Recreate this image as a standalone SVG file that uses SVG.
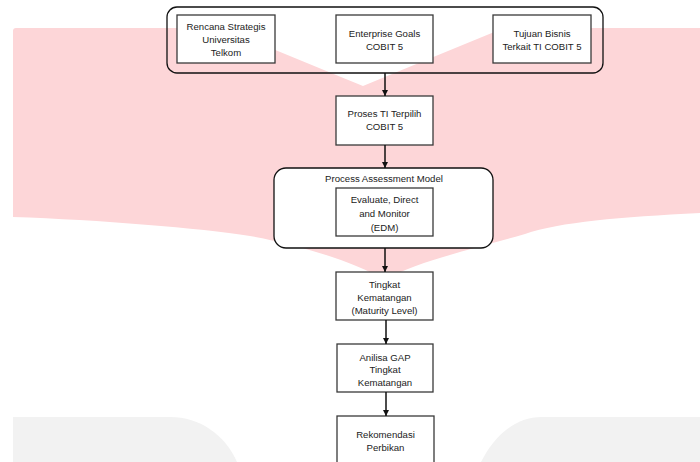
<svg xmlns="http://www.w3.org/2000/svg" width="700" height="462" viewBox="0 0 700 462">
  <defs>
    <style>
      .box { fill: #ffffff; stroke: #3a3a3a; stroke-width: 1.3; }
      .grp { fill: none; stroke: #111111; stroke-width: 1.3; }
      .grpw { fill: #ffffff; stroke: #111111; stroke-width: 1.3; }
      .lbl { font-family: "Liberation Sans", Arial, sans-serif; font-size: 9.6px; fill: #222222; text-anchor: middle; }
      .conn { stroke: #111111; stroke-width: 1.5; fill: none; marker-end: url(#arr); }
    </style>
    <marker id="arr" markerUnits="userSpaceOnUse" markerWidth="8" markerHeight="8" refX="6" refY="3" orient="auto">
      <path d="M0,0 L6,3 L0,6 Z" fill="#111111"/>
    </marker>
  </defs>
  <rect width="700" height="462" fill="#ffffff"/>
  <g id="background">
    <path d="M13,31 Q13,28 16,28 L222,28 Q300,60 363,86 Q426,60 504,28 L700,28 L700,213 C620,217 560,222 525,234 C470,250 415,262 385,280 C355,262 300,245 250,236 C200,228 100,220 13,217 Z" fill="#fdd6d8"/>
    <path d="M13,417 L170,417 C200,417 225,435 237,462 L13,462 Z" fill="#f2f2f2"/>
    <path d="M700,417 L542,417 C512,417 492,440 481,462 L700,462 Z" fill="#f2f2f2"/>
  </g>
  <g id="group-inputs">
    <rect class="grp" x="167" y="7" width="436" height="66" rx="10"/>
  </g>
  <g id="rencana">
    <rect class="box" x="177" y="15" width="98" height="48"/>
    <text class="lbl" x="226" y="29.5">Rencana Strategis</text>
    <text class="lbl" x="226" y="42.5">Universitas</text>
    <text class="lbl" x="226" y="55.5">Telkom</text>
  </g>
  <g id="enterprise">
    <rect class="box" x="336" y="15" width="97" height="48"/>
    <text class="lbl" x="384.5" y="36.5">Enterprise Goals</text>
    <text class="lbl" x="384.5" y="50">COBIT 5</text>
  </g>
  <g id="tujuan">
    <rect class="box" x="493" y="15" width="98" height="48"/>
    <text class="lbl" x="542" y="36.5">Tujuan Bisnis</text>
    <text class="lbl" x="542" y="50">Terkait TI COBIT 5</text>
  </g>
  <g id="proses">
    <rect class="box" x="336" y="96" width="97" height="49"/>
    <text class="lbl" x="384.5" y="116.5">Proses TI Terpilih</text>
    <text class="lbl" x="384.5" y="130">COBIT 5</text>
  </g>
  <g id="pam">
    <rect class="grpw" x="274" y="168" width="219" height="80" rx="12"/>
    <text class="lbl" x="384" y="181.5">Process Assessment Model</text>
  </g>
  <g id="edm">
    <rect class="box" x="336" y="188" width="97" height="48"/>
    <text class="lbl" x="384.5" y="202.5">Evaluate, Direct</text>
    <text class="lbl" x="384.5" y="216.5">and Monitor</text>
    <text class="lbl" x="384.5" y="230.5">(EDM)</text>
  </g>
  <g id="tingkat">
    <rect class="box" x="336" y="272" width="97" height="48"/>
    <text class="lbl" x="384.5" y="287.5">Tingkat</text>
    <text class="lbl" x="384.5" y="300.5">Kematangan</text>
    <text class="lbl" x="384.5" y="313.5">(Maturity Level)</text>
  </g>
  <g id="anilisa">
    <rect class="box" x="337" y="344" width="96" height="48"/>
    <text class="lbl" x="385" y="360.5">Anilisa GAP</text>
    <text class="lbl" x="385" y="373">Tingkat</text>
    <text class="lbl" x="385" y="385.5">Kematangan</text>
  </g>
  <g id="rekomendasi">
    <rect class="box" x="337" y="416" width="97" height="60"/>
    <text class="lbl" x="385.5" y="437.5">Rekomendasi</text>
    <text class="lbl" x="385.5" y="450.5">Perbikan</text>
  </g>
  <g id="connectors">
    <line class="conn" x1="385" y1="73" x2="385" y2="96"/>
    <line class="conn" x1="385" y1="145" x2="385" y2="168"/>
    <line class="conn" x1="385" y1="248" x2="385" y2="272"/>
    <line class="conn" x1="386" y1="320" x2="386" y2="344"/>
    <line class="conn" x1="386" y1="392" x2="386" y2="416"/>
  </g>
</svg>
